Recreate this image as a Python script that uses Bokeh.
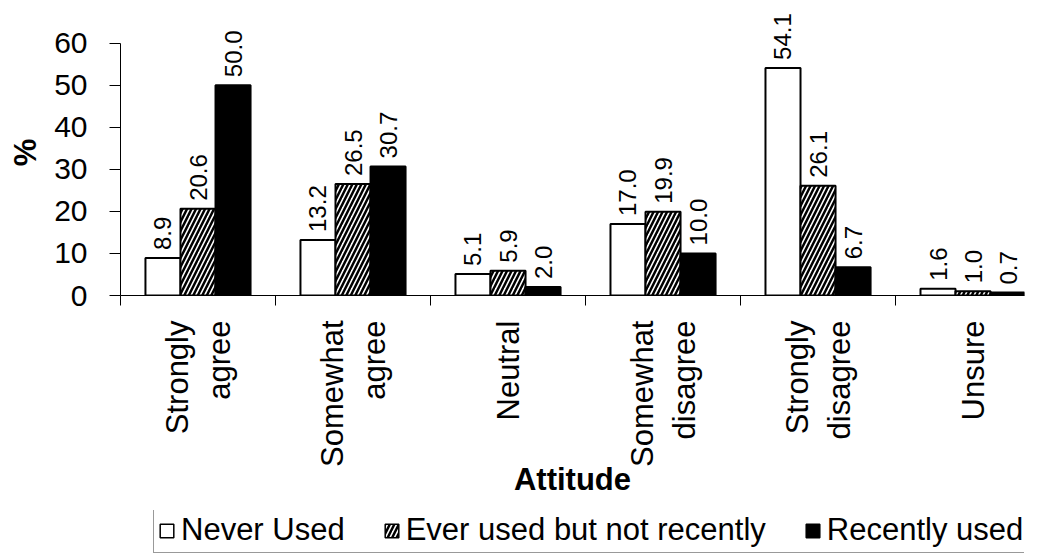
import numpy as np
from bokeh.plotting import figure
from bokeh.layouts import column
from bokeh.models import (ColumnDataSource, FixedTicker, Range1d, Legend, LegendItem)
from bokeh.core.properties import value
from bokeh.embed import file_html
from bokeh.resources import INLINE

categories = ["Strongly\nagree", "Somewhat\nagree", "Neutral",
              "Somewhat\ndisagree", "Strongly\ndisagree", "Unsure"]
series_names = ["Never Used", "Ever used but not recently", "Recently used"]
never_used = [8.9, 13.2, 5.1, 17.0, 54.1, 1.6]
ever_used = [20.6, 26.5, 5.9, 19.9, 26.1, 1.0]
recently_used = [50.0, 30.7, 2.0, 10.0, 6.7, 0.7]
y_ticks = [0, 10, 20, 30, 40, 50, 60]

FONT = "Liberation Sans"
BAR_W = 0.226

p = figure(width=1040, height=510, output_backend="svg", toolbar_location=None,
           x_range=Range1d(0, 5.832), y_range=Range1d(0, 68),
           min_border_left=120, min_border_right=16, min_border_top=9,
           min_border_bottom=215)
p.outline_line_color = None
p.xgrid.visible = False
p.ygrid.visible = False
p.background_fill_color = "white"
p.border_fill_color = "white"

idx = np.arange(len(categories))
centers = idx + 0.5

series = [never_used, ever_used, recently_used]
offsets = [-BAR_W, 0.0, BAR_W]
styles = [
    dict(fill_color="white"),
    dict(fill_color="white", hatch_pattern="/", hatch_color="black",
         hatch_weight=2.5, hatch_scale=9),
    dict(fill_color="black"),
]
for vals, off, st in zip(series, offsets, styles):
    src = ColumnDataSource(dict(x=centers + off, top=vals,
                                lab=[f"{v:.1f}" for v in vals]))
    p.vbar(x="x", top="top", bottom=0, width=BAR_W, source=src,
           line_color="black", line_width=2, **st)
    p.text(x="x", y="top", text="lab", source=src, angle=np.pi / 2,
           text_align="left", text_baseline="middle", y_offset=-8,
           text_font=value(FONT), text_font_size="24px", text_color="black")

# y axis
yax = p.yaxis[0]
yax.ticker = FixedTicker(ticks=y_ticks)
yax.bounds = (0, 60)
yax.minor_tick_line_color = None
yax.major_tick_in = 0
yax.major_tick_out = 11
yax.major_label_standoff = 22
yax.major_label_text_font = FONT
yax.major_label_text_font_size = "30px"
yax.major_label_text_color = "black"
yax.axis_label = "%"
yax.axis_label_text_font = FONT
yax.axis_label_text_font_style = "bold"
yax.axis_label_text_font_size = "31px"
yax.axis_label_text_color = "black"
yax.axis_label_standoff = 8
yax.axis_line_color = "black"
yax.major_tick_line_color = "black"

# x axis
xax = p.xaxis[0]
xax.ticker = FixedTicker(ticks=list(centers), minor_ticks=list(idx.astype(float)))
xax.major_label_overrides = {float(c): lab for c, lab in zip(centers, categories)}
xax.major_tick_in = 0
xax.major_tick_out = 0
xax.minor_tick_in = 0
xax.minor_tick_out = 10
xax.minor_tick_line_color = "black"
xax.major_label_orientation = np.pi / 2
xax.major_label_standoff = 15
xax.major_label_text_font = FONT
xax.major_label_text_font_size = "31px"
xax.major_label_text_color = "black"
xax.axis_label = "Attitude"
xax.axis_label_text_font = FONT
xax.axis_label_text_font_style = "bold"
xax.axis_label_text_font_size = "31px"
xax.axis_label_text_color = "black"
xax.axis_label_standoff = -8
xax.axis_line_color = "black"

# legend strip below the chart
p2 = figure(width=1040, height=45, output_backend="svg", toolbar_location=None,
            x_axis_type=None, y_axis_type=None, x_range=Range1d(0, 1), y_range=Range1d(0, 1),
            min_border_left=0, min_border_right=0, min_border_top=0, min_border_bottom=0)
p2.outline_line_color = None
p2.xgrid.visible = False
p2.ygrid.visible = False
leg_renderers = []
for vals, st in zip(series, styles):
    src = ColumnDataSource(dict(x=centers, top=vals))
    r = p2.vbar(x="x", top="top", bottom=0, width=BAR_W, source=src,
                line_color="black", line_width=1.5, visible=False, **st)
    leg_renderers.append(r)

legend = Legend(items=[LegendItem(label=n, renderers=[r]) for n, r in zip(series_names, leg_renderers)],
                orientation="horizontal", location=(33, 2))
legend.label_text_font = FONT
legend.label_text_font_size = "31px"
legend.label_text_color = "black"
legend.glyph_width = 17
legend.glyph_height = 17
legend.label_standoff = 6
legend.spacing = 38
legend.padding = 4
legend.margin = 0
legend.border_line_color = "#333333"
legend.border_line_width = 1.5
legend.background_fill_color = "white"
p2.add_layout(legend, "center")

open("out.html", "w").write(file_html(column(p, p2, spacing=0), INLINE))
